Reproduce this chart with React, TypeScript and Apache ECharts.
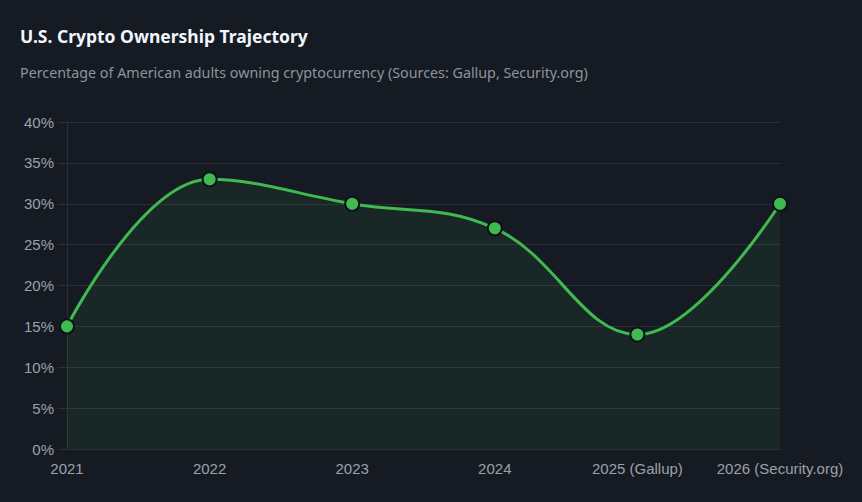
import React, { useEffect, useRef } from "react";
import * as echarts from "echarts";

const categories = ["2021", "2022", "2023", "2024", "2025 (Gallup)", "2026 (Security.org)"];
const ownership = [15, 33, 30, 27, 14, 30];
const yTicks = [0, 5, 10, 15, 20, 25, 30, 35, 40];

export default function App() {
  const ref = useRef<HTMLDivElement>(null);
  useEffect(() => {
    if (!ref.current) return;
    const chart = echarts.init(ref.current, null, { renderer: "svg" });
    const gridColor = "#2a2f37";
    chart.setOption({
      animation: false,
      backgroundColor: "#161b23",
      title: {
        text: "U.S. Crypto Ownership Trajectory",
        subtext: "Percentage of American adults owning cryptocurrency (Sources: Gallup, Security.org)",
        left: 15,
        top: 22,
        itemGap: 20,
        textStyle: { color: "#f0f6fc", fontFamily: "Noto Sans", fontWeight: "bold", fontSize: 17.5 },
        subtextStyle: { color: "#8b949e", fontFamily: "Noto Sans", fontSize: 14.3 },
      },
      grid: { left: 67, right: 82, top: 122, bottom: 53, containLabel: false },
      xAxis: {
        type: "category",
        data: categories,
        boundaryGap: false,
        axisLine: { show: true, lineStyle: { color: gridColor } },
        axisTick: { show: false },
        splitLine: { show: false },
        axisLabel: { color: "#9ba1a9", fontFamily: "Liberation Sans", fontSize: 15, margin: 12, interval: 0 },
      },
      yAxis: {
        type: "value",
        min: 0,
        max: 40,
        interval: 5,
        axisLine: { show: true, lineStyle: { color: gridColor } },
        axisTick: { show: true, length: 9, lineStyle: { color: gridColor } },
        splitLine: { show: true, lineStyle: { color: gridColor } },
        axisLabel: {
          color: "#9ba1a9",
          fontFamily: "Liberation Sans",
          fontSize: 15,
          margin: 13,
          formatter: (v: number) => (yTicks.includes(v) ? v + "%" : ""),
        },
      },
      series: [
        {
          type: "line",
          data: ownership,
          smooth: 0.4,
          symbol: "circle",
          symbolSize: 14,
          lineStyle: { color: "#3fb950", width: 3 },
          itemStyle: { color: "#3fb950", borderColor: "#0d1117", borderWidth: 2 },
          areaStyle: { color: "rgba(63,185,80,0.11)" },
        },
      ],
    });
    return () => chart.dispose();
  }, []);
  return <div ref={ref} style={{ width: 862, height: 502, position: "absolute", left: 0, top: 0 }} />;
}
